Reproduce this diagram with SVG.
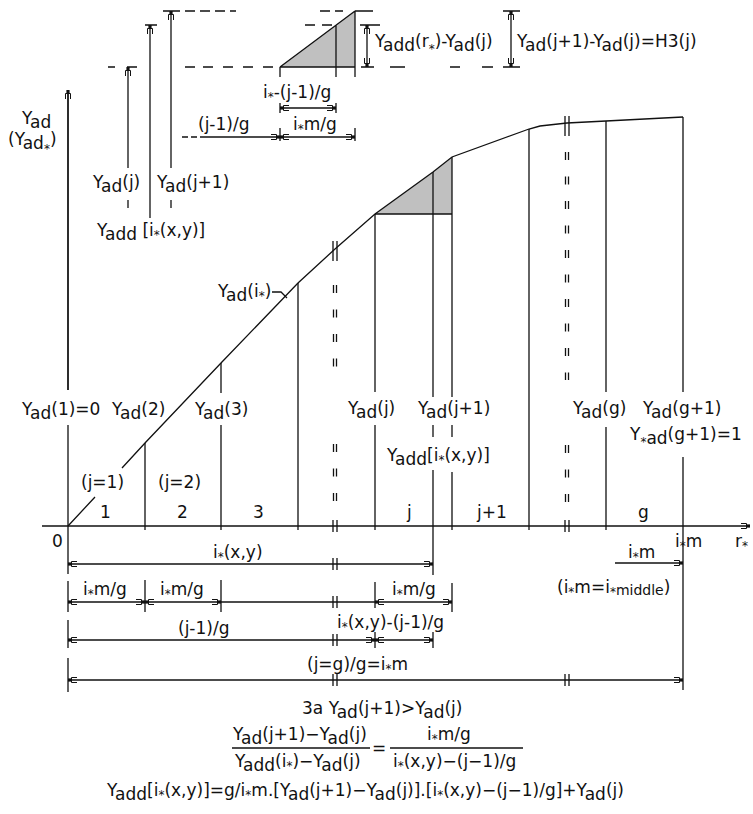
<svg xmlns="http://www.w3.org/2000/svg" xmlns:xlink="http://www.w3.org/1999/xlink" width="753" height="814" viewBox="0 0 753 814">
<style>
.t{font-family:"DejaVu Sans",sans-serif;font-size:17px;fill:#111}
.s{font-size:12px}
.sm{font-size:14px}
.l{stroke:#111;stroke-width:1.3;fill:none}
.d{stroke:#111;stroke-width:1.3;fill:none;stroke-dasharray:8 16.5}
.ar{marker-start:url(#a);marker-end:url(#a)}
.ae{marker-end:url(#a)}
</style>
<defs>
<marker id="a" viewBox="-10 -5 11 10" refX="0" refY="0" markerWidth="11" markerHeight="10" markerUnits="userSpaceOnUse" orient="auto-start-reverse">
<path d="M-9,-2.5 H-3.5 V2.5 H-9" fill="none" stroke="#111" stroke-width="1"/>
<rect x="-3.5" y="-1.6" width="3.5" height="3.2" fill="#111"/>
</marker>
<path id="brk" d="M-2,-6 V6 M2,-6 V6" stroke="#111" stroke-width="1.3" fill="none"/>
<path id="brkT" d="M-2,-10 V10 M2,-10 V10" stroke="#111" stroke-width="1.3" fill="none"/>
</defs>
<rect width="753" height="814" fill="#fff"/>

<g id="inset">
<polygon points="280,67 355,11 355,67" fill="#c0c0c0"/>
<path class="l" d="M280,67 L355,11 M280,67 H355 M280,67 V77 M336,25 V77 M355,11 V77 M355,11 H373"/>
<path class="l" d="M108,67 H115 M127,67 H137 M185,67 H195 M203,67 H213 M223,67 H233 M243,67 H253 M263,67 H273 M361,67 H374 M390,67 H405 M450,67 H460 M482,67 H493 M503,67 H520"/>
<path class="l" d="M145,25 H157 M305,25 H315 M322,25 H332 M360,25 H380"/>
<path class="l" d="M163,11 H180 M185,11 H195 M200,11 H210 M215,11 H225 M230,11 H236 M320,11 H330 M335,11 H343 M503,11 H520"/>
<line class="l ae" x1="128" y1="168" x2="128" y2="67"/>
<line class="l ae" x1="150" y1="218" x2="150" y2="25"/>
<line class="l ae" x1="171" y1="168" x2="171" y2="11"/>
<path class="l" d="M128,200 V208 M171,200 V208"/>
<line class="l ar" x1="367" y1="25" x2="367" y2="67"/>
<line class="l ar" x1="511" y1="11" x2="511" y2="67"/>
<path class="l" d="M280,103 V113 M336,103 V113 M280,128 V141 M355,128 V141 M182,137 H188 M191,137 H197"/>
<line class="l ar" x1="280" y1="108" x2="336" y2="108"/>
<line class="l ae" x1="200" y1="137" x2="280" y2="137"/>
<line class="l ar" x1="280" y1="137" x2="355" y2="137"/>
<text class="t" x="375" y="47">Y<tspan dy="4">add</tspan><tspan dy="-4">(r</tspan><tspan class="s" dy="6">*</tspan><tspan dy="-6">)-Y</tspan><tspan dy="4">ad</tspan><tspan dy="-4">(j)</tspan></text>
<text class="t" x="517" y="47">Y<tspan dy="4">ad</tspan><tspan dy="-4">(j+1)-Y</tspan><tspan dy="4">ad</tspan><tspan dy="-4">(j)=H3(j)</tspan></text>
<text class="t" x="263" y="98">i<tspan class="s" dy="3">*</tspan><tspan dy="-3">-(j-1)/g</tspan></text>
<text class="t" x="198" y="130">(j-1)/g</text>
<text class="t" x="293" y="130">i<tspan class="s" dy="3">*</tspan><tspan dy="-3">m/g</tspan></text>
<text class="t" x="93" y="188">Y<tspan dy="4">ad</tspan><tspan dy="-4">(j)</tspan></text>
<text class="t" x="157" y="188">Y<tspan dy="4">ad</tspan><tspan dy="-4">(j+1)</tspan></text>
<text class="t" x="97" y="236">Y<tspan dy="4">add</tspan><tspan dy="-4"> [i</tspan><tspan class="s" dy="3">*</tspan><tspan dy="-3">(x,y)]</tspan></text>
</g>

<g id="axes">
<path class="l" d="M68,390 V90 M68,425 V574 M68,581 V612 M68,620 V648 M68,658 V692"/>
<line class="l ae" x1="68" y1="390" x2="68" y2="90"/>
<line class="l ae" x1="42" y1="526" x2="750" y2="526"/>
<text class="t" x="22" y="124">Y<tspan dy="4">ad</tspan></text>
<text class="t" x="8" y="145">(Y<tspan dy="4">ad</tspan><tspan class="s" dy="4">*</tspan><tspan dy="-8">)</tspan></text>
<text class="t" x="52" y="547">0</text>
<text class="t" x="735" y="547">r<tspan class="s" dy="3">*</tspan></text>
<text class="t" x="675" y="547">i<tspan class="s" dy="3">*</tspan><tspan dy="-3">m</tspan></text>
</g>

<g id="curve">
<polygon points="375,214 433,172 452,157 452,214" fill="#c0c0c0"/>
<path class="l" d="M68,526 L95,497 M122,468 L145,443 L221,363 L298,283 L335,249 L375,214 L433,172 L452,157 L529,129 L540,126 L567,123 L606,121 L683,117"/>
<path class="l" d="M375,214 H452"/>
<path class="l" d="M272,292 H281 L287,298"/>
</g>

<g id="ordinates">
<path class="l" d="M145,443 V530 M221,363 V393 M221,425 V530 M298,283 V530 M375,214 V392 M375,425 V530 M433,172 V397 M433,425 V437 M433,470 V575 M452,157 V397 M452,425 V437 M452,472 V530 M529,129 V530 M606,121 V392 M606,427 V530 M683,117 V392 M683,457 V690"/>
<line class="d" x1="333.5" y1="285" x2="333.5" y2="370"/>
<line class="d" x1="336.5" y1="285" x2="336.5" y2="370"/>
<line class="d" x1="333.5" y1="444" x2="333.5" y2="505"/>
<line class="d" x1="336.5" y1="444" x2="336.5" y2="505"/>
<line class="d" x1="565.5" y1="152" x2="565.5" y2="380"/>
<line class="d" x1="568.5" y1="152" x2="568.5" y2="380"/>
<line class="d" x1="565.5" y1="445" x2="565.5" y2="505"/>
<line class="d" x1="568.5" y1="445" x2="568.5" y2="505"/>
<use xlink:href="#brkT" x="335" y="251"/>
<use xlink:href="#brkT" x="567" y="126"/>
<use xlink:href="#brk" x="335" y="526"/>
<use xlink:href="#brk" x="567" y="526"/>
<text class="t" x="218" y="297">Y<tspan dy="4">ad</tspan><tspan dy="-4">(i</tspan><tspan class="s" dy="3">*</tspan><tspan dy="-3">)</tspan></text>
<text class="t" x="22" y="415">Y<tspan dy="4">ad</tspan><tspan dy="-4">(1)=0</tspan></text>
<text class="t" x="112" y="415">Y<tspan dy="4">ad</tspan><tspan dy="-4">(2)</tspan></text>
<text class="t" x="195" y="415">Y<tspan dy="4">ad</tspan><tspan dy="-4">(3)</tspan></text>
<text class="t" x="348" y="414">Y<tspan dy="4">ad</tspan><tspan dy="-4">(j)</tspan></text>
<text class="t" x="418" y="414">Y<tspan dy="4">ad</tspan><tspan dy="-4">(j+1)</tspan></text>
<text class="t" x="387" y="461">Y<tspan dy="4">add</tspan><tspan dy="-4">[i</tspan><tspan class="s" dy="3">*</tspan><tspan dy="-3">(x,y)]</tspan></text>
<text class="t" x="573" y="414">Y<tspan dy="4">ad</tspan><tspan dy="-4">(g)</tspan></text>
<text class="t" x="643" y="414">Y<tspan dy="4">ad</tspan><tspan dy="-4">(g+1)</tspan></text>
<text class="t" x="630" y="440">Y<tspan class="s" dy="6">*</tspan><tspan dy="-2">ad</tspan><tspan dy="-4">(g+1)=1</tspan></text>
<text class="t" x="81" y="488">(j=1)</text>
<text class="t" x="158" y="488">(j=2)</text>
<text class="t" x="100" y="518">1</text>
<text class="t" x="177" y="518">2</text>
<text class="t" x="253" y="518">3</text>
<text class="t" x="407" y="518">j</text>
<text class="t" x="477" y="518">j+1</text>
<text class="t" x="638" y="518">g</text>
</g>

<g id="dimensions">
<path class="l" d="M145,580 V612 M221,580 V612 M375,582 V608 M452,583 V612 M375,632 V648 M433,632 V648"/>
<line class="l ar" x1="68" y1="564" x2="433" y2="564"/>
<line class="l ar" x1="68" y1="602" x2="145" y2="602"/>
<line class="l ar" x1="145" y1="602" x2="221" y2="602"/>
<line class="l" x1="221" y1="602" x2="375" y2="602"/>
<line class="l ar" x1="375" y1="602" x2="452" y2="602"/>
<line class="l ar" x1="68" y1="640" x2="375" y2="640"/>
<line class="l ar" x1="375" y1="640" x2="433" y2="640"/>
<line class="l ar" x1="68" y1="680" x2="683" y2="680"/>
<line class="l ae" x1="615" y1="563" x2="683" y2="563"/>
<use xlink:href="#brk" x="335" y="564"/>
<use xlink:href="#brk" x="335" y="602"/>
<use xlink:href="#brk" x="335" y="640"/>
<use xlink:href="#brk" x="335" y="680"/>
<use xlink:href="#brk" x="567" y="680"/>
<text class="t" x="213" y="558">i<tspan class="s" dy="3">*</tspan><tspan dy="-3">(x,y)</tspan></text>
<text class="t" x="83" y="595">i<tspan class="s" dy="3">*</tspan><tspan dy="-3">m/g</tspan></text>
<text class="t" x="160" y="595">i<tspan class="s" dy="3">*</tspan><tspan dy="-3">m/g</tspan></text>
<text class="t" x="392" y="595">i<tspan class="s" dy="3">*</tspan><tspan dy="-3">m/g</tspan></text>
<text class="t" x="178" y="634">(j-1)/g</text>
<text class="t" x="337" y="628">i<tspan class="s" dy="3">*</tspan><tspan dy="-3">(x,y)-(j-1)/g</tspan></text>
<text class="t" x="307" y="670">(j=g)/g=i<tspan class="s" dy="3">*</tspan><tspan dy="-3">m</tspan></text>
<text class="t" x="628" y="558">i<tspan class="s" dy="3">*</tspan><tspan dy="-3">m</tspan></text>
<text class="t" x="557" y="593">(i<tspan class="s" dy="3">*</tspan><tspan dy="-3">m=i</tspan><tspan class="s" dy="3">*</tspan><tspan class="sm" dy="-1">middle</tspan><tspan dy="-2">)</tspan></text>
</g>

<g id="formulas">
<text class="t" x="302" y="714">3a Y<tspan dy="4">ad</tspan><tspan dy="-4">(j+1)&gt;Y</tspan><tspan dy="4">ad</tspan><tspan dy="-4">(j)</tspan></text>
<text class="t" x="233" y="740">Y<tspan dy="4">ad</tspan><tspan dy="-4">(j+1)−Y</tspan><tspan dy="4">ad</tspan><tspan dy="-4">(j)</tspan></text>
<line class="l" x1="232" y1="748" x2="370" y2="748"/>
<text class="t" x="235" y="767">Y<tspan dy="4">add</tspan><tspan dy="-4">(i</tspan><tspan class="s" dy="3">*</tspan><tspan dy="-3">)−Y</tspan><tspan dy="4">ad</tspan><tspan dy="-4">(j)</tspan></text>
<text class="t" x="372" y="754">=</text>
<text class="t" x="427" y="740">i<tspan class="s" dy="3">*</tspan><tspan dy="-3">m/g</tspan></text>
<line class="l" x1="390" y1="748" x2="523" y2="748"/>
<text class="t" x="393" y="767">i<tspan class="s" dy="3">*</tspan><tspan dy="-3">(x,y)−(j−1)/g</tspan></text>
<text class="t" x="107" y="796">Y<tspan dy="4">add</tspan><tspan dy="-4">[i</tspan><tspan class="s" dy="3">*</tspan><tspan dy="-3">(x,y)]=g/i</tspan><tspan class="s" dy="3">*</tspan><tspan dy="-3">m.[Y</tspan><tspan dy="4">ad</tspan><tspan dy="-4">(j+1)−Y</tspan><tspan dy="4">ad</tspan><tspan dy="-4">(j)].[i</tspan><tspan class="s" dy="3">*</tspan><tspan dy="-3">(x,y)−(j−1)/g]+Y</tspan><tspan dy="4">ad</tspan><tspan dy="-4">(j)</tspan></text>
</g>
</svg>
